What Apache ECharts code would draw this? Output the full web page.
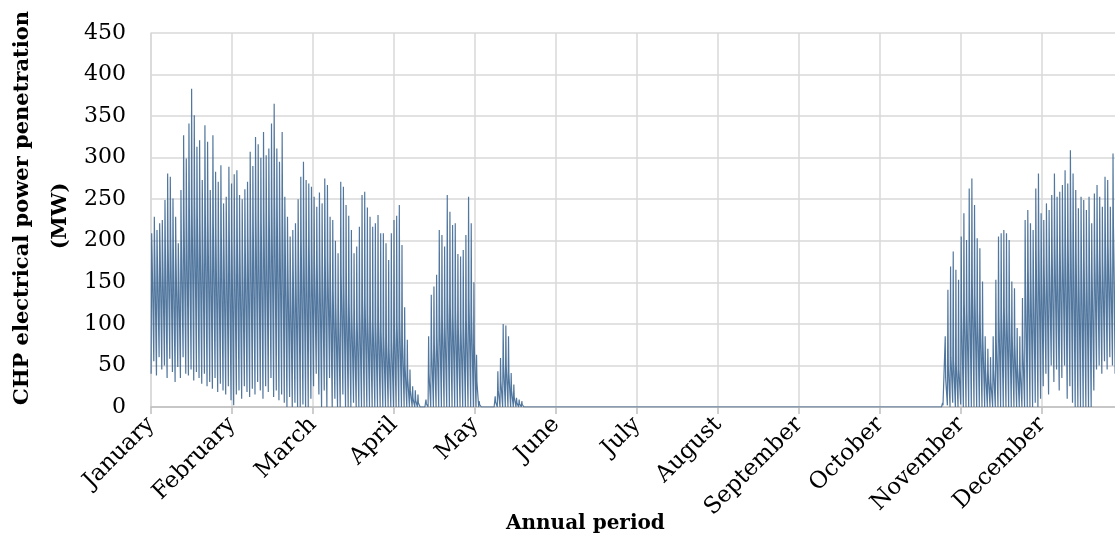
<!DOCTYPE html>
<html>
<head>
<meta charset="utf-8">
<title>CHP electrical power penetration</title>
<script src="https://cdn.jsdelivr.net/npm/echarts@6/dist/echarts.min.js"></script>
<style>
  html, body { margin: 0; padding: 0; background: #fff; overflow: hidden; }
  #chart { width: 1130px; height: 545px; }
</style>
</head>
<body>
<div id="chart"></div>
<script>
// month labels, one tick every 1/12 of the year
const months = ['January', 'February', 'March', 'April', 'May', 'June', 'July',
  'August', 'September', 'October', 'November', 'December'];
const yTicks = [0, 50, 100, 150, 200, 250, 300, 350, 400, 450];

// daily peak / plateau / trough (MW), heating season Jan 1 -> mid May
const winterStart = 0;
const winterHigh = [
  209, 229, 213, 221, 225, 249, 281, 277, 251, 229, 197, 261, 327, 299, 341, 383, 351, 313, 321, 273, 339, 319, 261, 327, 283, 271, 291, 245, 253, 289, 269,
  280, 285, 255, 250, 262, 271, 307, 290, 325, 316, 300, 331, 303, 311, 341, 365, 311, 295, 331, 253, 229, 205, 213, 221, 250, 277, 295, 273,
  269, 265, 253, 241, 258, 245, 275, 267, 229, 225, 200, 185, 271, 265, 243, 230, 213, 185, 193, 217, 255, 259, 240, 229, 217, 221, 231, 209, 209, 197, 177,
  209, 225, 230, 243, 195, 120, 81, 45, 25, 20, 15, 0, 0, 9, 85, 135, 145, 159, 213, 207,
  193, 255, 235, 219, 221, 184, 181, 189, 207, 253, 221, 150, 63, 7, 0, 0, 0, 0, 0, 13,
  43, 59, 100, 98, 85, 41, 27, 11, 9, 7
];
const winterMid = [
  185, 190, 180, 195, 185, 190, 200, 205, 190, 180, 170, 200, 230, 225, 240, 250, 245, 230, 225, 215, 235, 225, 210, 220, 205, 200, 210, 195, 200, 210, 195,
  200, 205, 190, 185, 195, 205, 220, 215, 230, 225, 220, 235, 225, 230, 245, 255, 235, 225, 240, 200, 175, 160, 165, 170, 185, 200, 205, 195,
  190, 185, 175, 170, 180, 170, 185, 175, 150, 140, 125, 115, 160, 150, 135, 125, 115, 100, 105, 115, 130, 125, 110, 105, 100, 100, 105, 90, 85, 80, 70,
  80, 95, 100, 105, 80, 50, 35, 20, 10, 8, 5, 0, 0, 4, 40, 70, 75, 85, 110, 105,
  100, 130, 120, 110, 115, 95, 95, 100, 105, 130, 110, 75, 30, 3, 0, 0, 0, 0, 0, 6,
  20, 30, 50, 50, 40, 20, 12, 5, 4, 3
];
const winterLow = [
  40, 55, 38, 60, 45, 50, 35, 58, 42, 30, 48, 35, 60, 40, 38, 45, 32, 42, 35, 28, 40, 25, 30, 22, 35, 18, 28, 20, 15, 25, 8,
  2, 15, 20, 10, 25, 18, 12, 22, 15, 30, 20, 10, 25, 18, 35, 12, 20, 8, 15, 5, 0, 12, 0, 5, 0, 0, 3, 0,
  0, 10, 25, 40, 15, 0, 20, 0, 35, 0, 10, 0, 0, 15, 0, 0, 0, 5, 0, 0, 0, 0, 0, 0, 0, 0, 0, 0, 0, 0, 0,
  0, 0, 0, 0, 0, 0, 0, 0, 0, 0, 0, 0, 0, 0, 0, 0, 0, 0, 0, 0,
  0, 0, 0, 0, 0, 0, 0, 0, 0, 0, 0, 0, 0, 0, 0, 0, 0, 0, 0, 0,
  0, 0, 0, 0, 0, 0, 0, 0, 0, 0
];

// heating season late October -> Dec 31
const autumnStart = 297;
const autumnHigh = [
  5, 85, 141, 169, 187, 165, 153, 205, 233, 201,
  263, 275, 243, 203, 191, 151, 85, 70, 60, 85,
  153, 205, 209, 213, 209, 201, 151, 143, 95, 85,
  131, 225, 237, 221, 213, 263, 281, 233, 225, 245,
  237, 255, 281, 253, 259, 267, 285, 269, 309, 281,
  261, 239, 253, 249, 237, 253, 221, 257, 267, 253,
  241, 277, 273, 241, 305, 250, 270, 240
];
const autumnMid = [
  2, 35, 50, 60, 55, 50, 45, 110, 125, 115,
  145, 150, 135, 115, 100, 80, 45, 40, 30, 45,
  80, 110, 115, 120, 115, 110, 85, 75, 50, 45,
  70, 150, 165, 160, 155, 185, 195, 170, 165, 180,
  175, 185, 200, 185, 190, 195, 205, 195, 220, 205,
  185, 170, 180, 175, 170, 180, 160, 185, 190, 180,
  175, 200, 195, 180, 220, 190, 200, 180
];
const autumnLow = [
  0, 0, 2, 0, 5, 0, 0, 3, 0, 0,
  0, 0, 0, 0, 0, 0, 0, 0, 0, 0,
  0, 0, 0, 0, 0, 0, 0, 0, 0, 0,
  0, 0, 0, 0, 0, 5, 0, 10, 25, 40,
  15, 50, 30, 45, 20, 35, 50, 10, 25, 5,
  0, 0, 0, 0, 0, 0, 0, 20, 45, 50,
  40, 55, 45, 60, 50, 40, 55, 45
];

const daysInYear = 365;
const monthStep = daysInYear / 12;

// plant is off in summer: days outside both blocks sit at 0
let series = [];
for (let d = 0; d < daysInYear; d++) {
  let hi = 0, mid = 0, lo = 0;
  if (d - winterStart < winterHigh.length) {
    hi = winterHigh[d - winterStart];
    mid = winterMid[d - winterStart];
    lo = winterLow[d - winterStart];
  } else if (d >= autumnStart) {
    hi = autumnHigh[d - autumnStart];
    mid = autumnMid[d - autumnStart];
    lo = autumnLow[d - autumnStart];
  }
  // night trough, morning peak, daytime plateau
  series.push([d + 0.05, lo]);
  series.push([d + 0.25, hi]);
  series.push([d + 0.4, mid]);
  series.push([d + 0.85, mid]);
}

const titleFont = {
  fontFamily: 'DejaVu Serif',
  fontWeight: 'bold',
  fill: '#000',
  align: 'center',
  verticalAlign: 'middle'
};

let chart = echarts.init(document.getElementById('chart'));
chart.setOption({
  animation: false,
  grid: {
    left: 151,
    right: 7,
    top: 33,
    bottom: 138,
    outerBoundsMode: 'none'
  },
  graphic: [
    {
      type: 'text',
      left: 506,
      top: 514,
      style: Object.assign({}, titleFont, { text: 'Annual period', fontSize: 20, align: 'left', verticalAlign: 'top' })
    },
    {
      type: 'text',
      x: 23,
      y: 208,
      rotation: Math.PI / 2,
      style: Object.assign({}, titleFont, { text: 'CHP electrical power penetration', fontSize: 21 })
    },
    {
      type: 'text',
      x: 61,
      y: 216,
      rotation: Math.PI / 2,
      style: Object.assign({}, titleFont, { text: '(MW)', fontSize: 21 })
    }
  ],
  xAxis: {
    type: 'value',
    min: 0,
    max: daysInYear,
    interval: monthStep,
    axisLine: {
      show: true,
      lineStyle: { color: '#bfbfbf', width: 1.5 }
    },
    axisTick: {
      show: true,
      length: 7,
      lineStyle: { color: '#bfbfbf', width: 1.5 }
    },
    splitLine: {
      show: true,
      lineStyle: { color: '#d9d9d9', width: 1.5 }
    },
    axisLabel: {
      rotate: 45,
      margin: 14,
      fontFamily: 'DejaVu Serif',
      fontSize: 23,
      color: '#000',
      formatter: function (v) {
        return months[Math.round(v / monthStep)] || '';
      }
    }
  },
  yAxis: {
    type: 'value',
    min: yTicks[0],
    max: yTicks[yTicks.length - 1],
    interval: yTicks[1] - yTicks[0],
    axisLine: {
      show: true,
      lineStyle: { color: '#d9d9d9', width: 1.5 }
    },
    axisTick: { show: false },
    splitLine: {
      show: true,
      lineStyle: { color: '#d9d9d9', width: 1.5 }
    },
    axisLabel: {
      margin: 25,
      fontFamily: 'DejaVu Serif',
      fontSize: 22,
      color: '#000'
    }
  },
  series: [
    {
      name: 'CHP',
      type: 'line',
      data: series,
      showSymbol: false,
      symbol: 'none',
      sampling: null,
      lineStyle: { color: '#3f6893', width: 1.2, opacity: 0.9 }
    }
  ]
});
</script>
</body>
</html>
